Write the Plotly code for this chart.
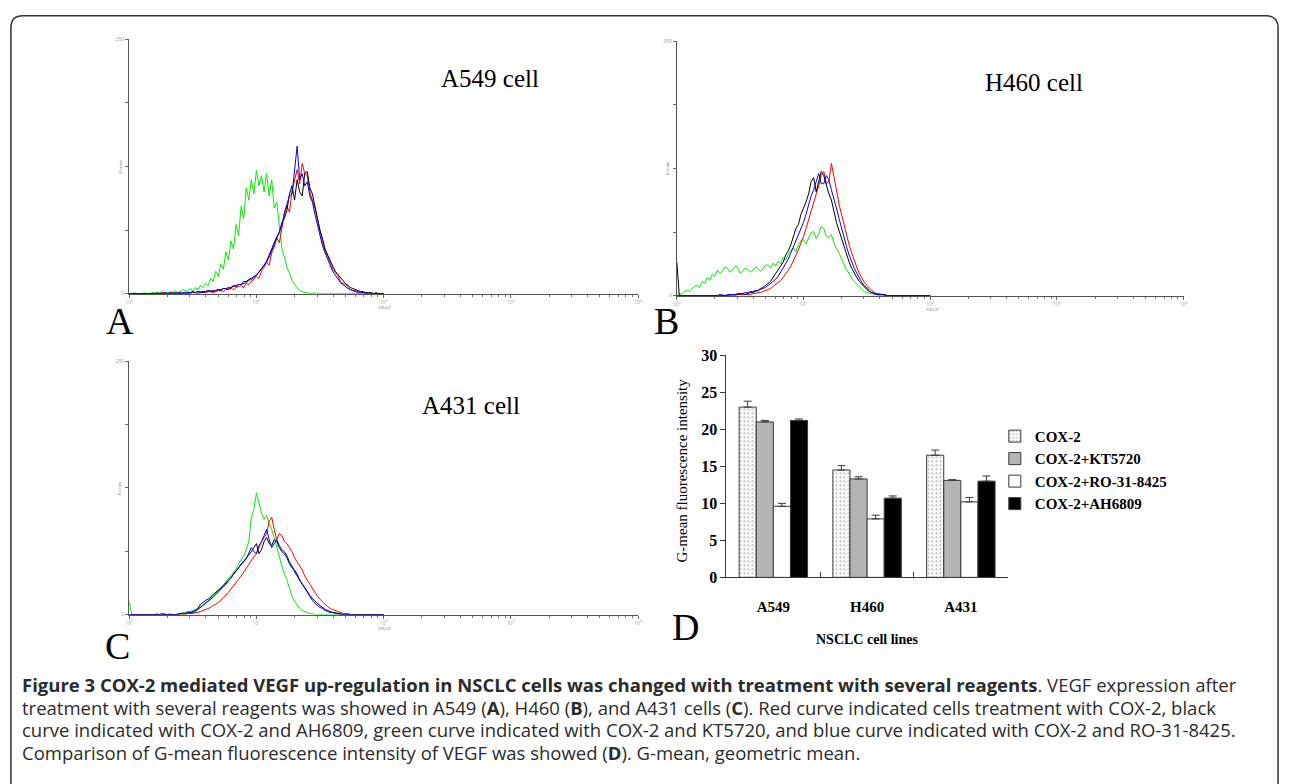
import math
import plotly.graph_objects as go

W, H = 1289, 784

# ---- flow cytometry histograms: x = log10(VEGF), step 0.02 decade; y = events ----
channels = [round(0.02 * i, 2) for i in range(101)]

green_a = [0, 0, 1, 0, 0, 0, 1, 0, 0, 1,
           1, 0, 1, 2, 0, 1, 2, 1, 3, 1,
           2, 4, 3, 2, 5, 3, 6, 4, 8, 6,
           10, 8, 15, 12, 22, 17, 29, 24, 41, 33,
           52, 44, 68, 57, 86, 74, 104, 92, 112, 98,
           121, 106, 116, 100, 118, 96, 112, 84, 90, 66,
           44, 36, 26, 20, 13, 9, 6, 3, 2, 1,
           1, 0, 0, 1, 0, 0, 0, 0, 0, 0,
           0, 0, 0, 0, 0, 0, 0, 0, 0, 0,
           0, 0, 0, 0, 0, 0, 0, 0, 0, 0, 0]
red_a = [0, 0, 0, 0, 0, 0, 0, 0, 0, 0,
         0, 0, 0, 1, 0, 0, 0, 1, 0, 0,
         1, 0, 0, 1, 0, 1, 1, 0, 1, 2,
         1, 2, 2, 1, 2, 3, 3, 2, 4, 5,
         5, 4, 6, 7, 8, 6, 10, 9, 12, 14,
         17, 15, 22, 26, 31, 28, 40, 46, 55, 50,
         66, 78, 86, 80, 101, 112, 122, 108, 128, 118,
         116, 100, 92, 84, 73, 60, 50, 42, 37, 30,
         24, 21, 18, 12, 10, 9, 7, 4, 3, 3,
         2, 1, 1, 1, 0, 1, 0, 0, 0, 0, 0]
black_a = [0, 0, 0, 0, 0, 0, 0, 0, 0, 0,
           0, 1, 0, 0, 1, 0, 0, 1, 0, 1,
           0, 1, 1, 0, 1, 2, 1, 2, 2, 1,
           2, 3, 2, 3, 3, 4, 3, 5, 5, 4,
           6, 8, 7, 9, 9, 12, 12, 14, 15, 17,
           18, 22, 25, 28, 32, 38, 44, 50, 56, 60,
           70, 74, 82, 98, 106, 92, 112, 100, 96, 118,
           120, 104, 98, 86, 74, 62, 54, 44, 38, 32,
           27, 22, 19, 15, 12, 10, 8, 6, 5, 4,
           3, 2, 2, 1, 1, 1, 0, 1, 0, 0, 0]
blue_a = [0, 0, 0, 0, 0, 0, 0, 0, 0, 0,
          0, 0, 0, 0, 1, 0, 1, 0, 1, 0,
          1, 0, 1, 1, 1, 2, 1, 2, 1, 2,
          2, 3, 3, 2, 3, 4, 4, 5, 5, 6,
          6, 7, 8, 9, 9, 10, 11, 13, 14, 16,
          18, 21, 24, 28, 31, 36, 42, 49, 54, 60,
          67, 80, 88, 96, 98, 120, 145, 112, 118, 106,
          110, 96, 90, 78, 67, 56, 47, 40, 33, 28,
          22, 18, 15, 11, 9, 7, 5, 4, 3, 2,
          1, 1, 1, 0, 1, 0, 0, 0, 0, 0, 0]

green_b = [3, 1, 2, 4, 5, 4, 7, 9, 10, 8,
           14, 12, 18, 15, 21, 19, 25, 22, 24, 28,
           27, 23, 25, 29, 28, 22, 24, 27, 26, 23,
           25, 28, 27, 24, 26, 30, 30, 27, 32, 29,
           34, 31, 38, 35, 41, 44, 47, 43, 50, 54,
           55, 51, 57, 62, 63, 56, 60, 68, 66, 58,
           57, 60, 52, 46, 42, 36, 31, 25, 22, 17,
           14, 11, 8, 6, 4, 3, 2, 2, 1, 1,
           0, 1, 0, 0, 0, 0, 0, 0, 0, 0,
           0, 0, 0, 0, 0, 0, 0, 0, 0, 0, 0]
red_b = [0, 0, 0, 0, 0, 0, 0, 0, 0, 0,
         0, 0, 0, 0, 0, 0, 0, 0, 0, 0,
         0, 0, 0, 0, 1, 1, 1, 1, 1, 1,
         2, 2, 3, 3, 4, 5, 6, 7, 9, 11,
         13, 15, 18, 21, 25, 29, 34, 40, 45, 52,
         58, 66, 74, 84, 92, 100, 108, 118, 122, 110,
         112, 130, 118, 104, 90, 80, 70, 58, 50, 42,
         34, 28, 22, 17, 13, 10, 7, 5, 3, 2,
         2, 1, 1, 0, 0, 0, 0, 0, 0, 0,
         0, 0, 0, 0, 0, 0, 0, 0, 0, 0, 0]
black_b = [33, 0, 0, 0, 0, 0, 0, 0, 0, 0,
           0, 0, 0, 0, 0, 0, 0, 1, 0, 0,
           0, 1, 1, 1, 1, 2, 2, 1, 2, 3,
           3, 4, 5, 7, 8, 10, 12, 14, 18, 22,
           25, 30, 33, 40, 44, 50, 58, 66, 70, 80,
           86, 92, 100, 112, 116, 102, 112, 122, 118, 108,
           100, 94, 82, 72, 64, 56, 47, 40, 33, 27,
           22, 18, 14, 11, 8, 6, 4, 3, 2, 1,
           1, 1, 1, 0, 0, 0, 0, 0, 0, 0,
           0, 0, 0, 0, 0, 0, 0, 0, 0, 0, 0]
blue_b = [0, 0, 0, 0, 0, 0, 0, 0, 0, 0,
          0, 0, 0, 0, 0, 0, 0, 0, 1, 0,
          1, 1, 1, 1, 2, 2, 2, 3, 3, 4,
          4, 5, 5, 6, 7, 8, 10, 12, 14, 16,
          19, 23, 27, 31, 36, 42, 48, 54, 60, 66,
          72, 80, 90, 98, 104, 112, 120, 110, 110, 118,
          114, 104, 96, 86, 76, 66, 56, 48, 40, 33,
          27, 22, 17, 13, 10, 7, 5, 3, 2, 1,
          1, 1, 0, 0, 0, 0, 0, 0, 0, 0,
          0, 0, 0, 0, 0, 0, 0, 0, 0, 0, 0]

green_c = [13, 0, 0, 0, 0, 0, 0, 0, 0, 0,
           0, 1, 0, 0, 1, 0, 1, 0, 0, 1,
           1, 2, 2, 3, 3, 4, 5, 6, 8, 9,
           12, 13, 16, 18, 21, 23, 26, 29, 32, 35,
           38, 42, 45, 50, 54, 58, 64, 72, 96, 104,
           120, 110, 100, 94, 98, 90, 84, 76, 66, 56,
           48, 40, 34, 26, 18, 13, 9, 6, 4, 3,
           2, 1, 1, 0, 0, 0, 0, 0, 0, 0,
           0, 0, 0, 0, 0, 0, 0, 0, 0, 0,
           0, 0, 0, 0, 0, 0, 0, 0, 0, 0, 0]
red_c = [0, 0, 0, 0, 0, 0, 0, 0, 0, 0,
         0, 0, 0, 0, 0, 0, 0, 0, 0, 0,
         0, 0, 0, 1, 1, 1, 2, 2, 3, 4,
         5, 6, 7, 9, 10, 12, 14, 17, 19, 22,
         25, 28, 31, 35, 38, 42, 46, 50, 53, 57,
         60, 66, 72, 76, 80, 92, 96, 84, 74, 80,
         78, 72, 70, 66, 62, 56, 52, 48, 44, 38,
         34, 29, 25, 21, 18, 15, 12, 10, 8, 6,
         5, 4, 3, 2, 1, 1, 1, 0, 0, 0,
         0, 0, 0, 0, 0, 0, 0, 0, 0, 0, 0]
black_c = [0, 0, 0, 0, 0, 0, 0, 0, 0, 0,
           0, 0, 0, 1, 0, 0, 0, 0, 0, 0,
           1, 1, 1, 2, 2, 3, 4, 6, 10, 12,
           14, 15, 17, 20, 22, 24, 26, 29, 31, 34,
           36, 40, 43, 46, 50, 53, 56, 59, 62, 66,
           70, 60, 64, 72, 76, 70, 68, 74, 72, 66,
           62, 60, 56, 50, 46, 44, 40, 34, 30, 26,
           23, 19, 16, 13, 11, 9, 7, 5, 4, 3,
           2, 2, 1, 1, 0, 0, 0, 0, 0, 0,
           0, 0, 0, 0, 0, 0, 0, 0, 0, 0, 0]
blue_c = [0, 0, 0, 0, 0, 0, 0, 0, 0, 0,
          0, 0, 0, 0, 0, 0, 0, 0, 0, 0,
          1, 1, 1, 2, 2, 2, 3, 5, 7, 9,
          11, 13, 15, 17, 20, 22, 25, 27, 30, 33,
          36, 39, 42, 46, 50, 52, 55, 60, 66, 62,
          60, 68, 72, 78, 84, 74, 66, 70, 74, 68,
          64, 62, 58, 52, 48, 42, 38, 33, 29, 25,
          21, 17, 14, 11, 9, 7, 6, 4, 3, 2,
          2, 1, 1, 0, 0, 0, 0, 0, 0, 0,
          0, 0, 0, 0, 0, 0, 0, 0, 0, 0, 0]

# ---- G-mean bar chart ----
cells = ["A549", "H460", "A431"]
cox2 = [23.0, 14.5, 16.5]
cox2_err = [0.8, 0.6, 0.7]
kt5720 = [21.0, 13.3, 13.1]
kt5720_err = [0.2, 0.3, 0.1]
ro = [9.6, 7.9, 10.2]
ro_err = [0.4, 0.5, 0.6]
ah6809 = [21.2, 10.7, 13.0]
ah6809_err = [0.2, 0.3, 0.7]

SERIF = "Liberation Serif"
SANS = "Open Sans"
TXT = "#2b2b2b"


def px(x):
    return x / W


def py(y):
    return 1 - y / H


fig = go.Figure()

panels = [
    ("x", "y", green_a, red_a, black_a, blue_a),
    ("x2", "y2", green_b, red_b, black_b, blue_b),
    ("x3", "y3", green_c, red_c, black_c, blue_c),
]
for xa, ya, g, r, k, b in panels:
    for vals, col in [(g, "#00ee00"), (r, "#ff0000"), (k, "#000000"), (b, "#0000ff")]:
        fig.add_trace(go.Scatter(x=channels, y=vals, mode="lines", xaxis=xa, yaxis=ya,
                                 line=dict(color=col, width=1), showlegend=False,
                                 hoverinfo="skip"))

err_line = "#3a3a3a"
bars = [
    ("COX-2", cox2, cox2_err, dict(color="white", pattern=dict(shape=".", fgcolor="#8a8a8a", bgcolor="white", size=4, solidity=0.3))),
    ("COX-2+KT5720", kt5720, kt5720_err, dict(color="#b5b5b5")),
    ("COX-2+RO-31-8425", ro, ro_err, dict(color="white")),
    ("COX-2+AH6809", ah6809, ah6809_err, dict(color="black")),
]
for name, vals, err, marker in bars:
    marker["line"] = dict(color=err_line, width=1)
    fig.add_trace(go.Bar(x=cells, y=vals, name=name, marker=marker, xaxis="x4", yaxis="y4",
                         error_y=dict(type="data", array=err, arrayminus=[0, 0, 0], symmetric=False,
                                      color=err_line, thickness=1, width=4)))

minor_vals = [d + math.log10(k) for d in range(4) for k in range(2, 10)]
hist_x = dict(range=[0, 4], tickvals=[0, 1, 2, 3, 4],
              ticktext=["10<sup>0</sup>", "10<sup>1</sup>", "10<sup>2</sup>", "10<sup>3</sup>", "10<sup>4</sup>"],
              ticks="outside", ticklen=3, tickcolor="#666", showline=True, linecolor="#555", linewidth=1,
              showgrid=False, zeroline=False, tickfont=dict(size=5, color="#999"),
              minor=dict(tickvals=minor_vals, ticks="outside", ticklen=2, tickcolor="#777"))
hist_y = dict(range=[0, 250], tickvals=[0, 62.5, 125, 187.5, 250], ticktext=["0", "", "", "", "250"],
              ticks="outside", ticklen=3, tickcolor="#666", showline=True, linecolor="#555", linewidth=1,
              showgrid=False, zeroline=False, tickfont=dict(size=5, color="#999"))

fig.update_layout(
    width=W, height=H, margin=dict(l=0, r=0, t=0, b=0),
    paper_bgcolor="white", plot_bgcolor="white",
    barmode="group", bargap=0.27, bargroupgap=0,
    xaxis=dict(hist_x, domain=[px(126), px(638)], anchor="y"),
    yaxis=dict(hist_y, domain=[py(292), py(32)], anchor="x"),
    xaxis2=dict(hist_x, domain=[px(677), px(1187)], anchor="y2"),
    yaxis2=dict(hist_y, domain=[py(294), py(34)], anchor="x2"),
    xaxis3=dict(hist_x, domain=[px(126), px(638)], anchor="y3"),
    yaxis3=dict(hist_y, domain=[py(620), py(361)], anchor="x3"),
    xaxis4=dict(domain=[px(727), px(1010)], anchor="y4", showline=True, linecolor=err_line, linewidth=1,
                ticks="inside", tickson="boundaries", ticklen=5, tickcolor=err_line, ticklabelstandoff=16,
                tickfont=dict(family=SERIF, size=15, color="black", weight="bold")),
    yaxis4=dict(domain=[py(582), py(355)], anchor="x4", range=[0, 30], dtick=5, showline=True,
                linecolor=err_line, linewidth=1, ticks="outside", ticklen=5, tickcolor=err_line,
                showgrid=False, zeroline=False,
                tickfont=dict(family=SERIF, size=16, color="black", weight="bold")),
    legend=dict(x=px(997), y=py(421), xanchor="left", yanchor="top", bgcolor="rgba(0,0,0,0)",
                font=dict(family=SERIF, size=15, color="black", weight="bold"), itemwidth=30),
)

ann = []


def text(x, y, s, size, family=SERIF, color="black", angle=0, anchor="center", weight="normal"):
    ann.append(dict(x=px(x), y=py(y), xref="paper", yref="paper", text=s, showarrow=False,
                    xanchor=anchor, yanchor="middle", textangle=angle,
                    font=dict(family=family, size=size, color=color, weight=weight)))


text(489, 72, "A549 cell", 25)
text(1036, 76, "H460 cell", 25)
text(470, 406, "A431 cell", 25)

text(117, 320, "A", 38)
text(667, 320, "B", 38)
text(114, 652, "C", 38)
text(686, 633, "D", 38)

for x0, y0, y1 in [(126, 32, 292), (677, 34, 294), (126, 361, 620)]:
    text(x0 - 9, (y0 + y1) / 2, "Events", 5, color="#777", angle=-90)
    text(x0 + 257, y1 + 14, "VEGF", 5, color="#777")

text(682, 473, "G-mean fluorescence intensity", 15, angle=-90)
text(868, 646, "NSCLC cell lines", 14, weight="bold")

cap = [
    "<b>Figure 3 COX-2 mediated VEGF up-regulation in NSCLC cells was changed with treatment with several reagents</b>. VEGF expression after",
    "treatment with several reagents was showed in A549 (<b>A</b>), H460 (<b>B</b>), and A431 cells (<b>C</b>). Red curve indicated cells treatment with COX-2, black",
    "curve indicated with COX-2 and AH6809, green curve indicated with COX-2 and KT5720, and blue curve indicated with COX-2 and RO-31-8425.",
    "Comparison of G-mean fluorescence intensity of VEGF was showed (<b>D</b>). G-mean, geometric mean.",
]
for i, line in enumerate(cap):
    text(16, 692 + i * 23, line, 18.5, family=SANS, color=TXT, anchor="left")

fig.update_layout(annotations=ann)

# rounded frame around the figure
r = 12
frame = (f"M {px(7)},{py(800)} L {px(7)},{py(8 + r)} Q {px(7)},{py(8)} {px(7 + r)},{py(8)} "
         f"L {px(1282 - r)},{py(8)} Q {px(1282)},{py(8)} {px(1282)},{py(8 + r)} L {px(1282)},{py(800)}")
fig.add_shape(type="path", path=frame, xref="paper", yref="paper", line=dict(color="#333", width=1.5))

fig.write_html("out.html", config={"displayModeBar": False},
               post_script="document.body.style.margin='0';")
